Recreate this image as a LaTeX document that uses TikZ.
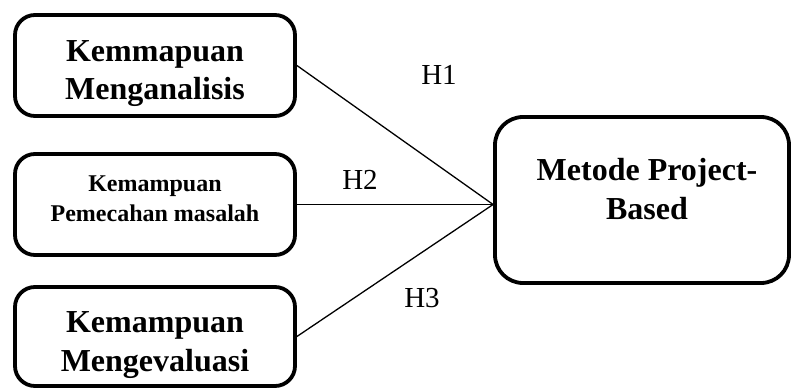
\documentclass[tikz,border=0pt]{standalone}
\usepackage{fontspec}
\setmainfont{Liberation Serif}
\newcommand{\boxfont}{\fontsize{32}{38.5}\selectfont\bfseries}
\newcommand{\smallboxfont}{\fontsize{24}{30}\selectfont\bfseries}

\begin{document}
\begin{tikzpicture}[x=1pt, y=-1pt,
        varbox/.style={draw, line width=3.8pt, rounded corners=20pt, minimum width=280pt},
        hyp/.style={line width=1.3pt},
        hlabel/.style={anchor=base, inner sep=0pt, font=\fontsize{29}{34}\selectfont}]
        \useasboundingbox (0,0) rectangle (793,390);
        % Left variable boxes
        \foreach \n/\y/\h in {analisis/65.5/101, masalah/204.5/101, evaluasi/336.5/99} {
            \node[varbox, minimum height=\h pt] (\n) at (155,\y) {};
        }
        \node[align=center, font=\boxfont] (analisisTxt) at (155,73.7) {Kemmapuan\\Menganalisis};
        \node[align=center, font=\smallboxfont] (masalahTxt) at (155,199) {Kemampuan\\Pemecahan masalah};
        \node[align=center, font=\boxfont] (evaluasiTxt) at (155,345) {Kemampuan\\Mengevaluasi};
        % Dependent box
        \node[varbox, rounded corners=28pt, minimum width=294pt, minimum height=166pt] (metode) at (642,200) {};
        \node[align=center, font=\boxfont] (metodeTxt) at (647,189) {Metode Project-\\Based};
        % Hypotheses
        \coordinate (meet) at (masalah.east -| metode.west);
        \foreach \n in {analisis, masalah, evaluasi} {
            \draw[hyp] (\n.east) -- (meet);
        }
        \node[hlabel] (h1) at (439,85) {H1};
        \node[hlabel] (h2) at (360,190) {H2};
        \node[hlabel] (h3) at (422,308) {H3};
    \end{tikzpicture}
\end{document}
